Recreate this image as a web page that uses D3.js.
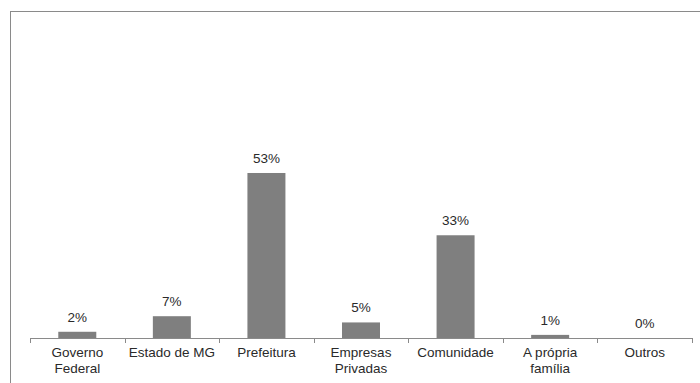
<!DOCTYPE html>
<html>
<head>
<meta charset="utf-8">
<script src="https://cdn.jsdelivr.net/npm/d3@7"></script>
<style>
  html, body { margin: 0; padding: 0; background: #fff; }
  svg { display: block; }
</style>
</head>
<body>
<svg id="chart" width="700" height="383"></svg>
<script>
const categories = [
  ["Governo", "Federal"],
  ["Estado de MG"],
  ["Prefeitura"],
  ["Empresas", "Privadas"],
  ["Comunidade"],
  ["A própria", "família"],
  ["Outros"]
];
const values = [2, 7, 53, 5, 33, 1, 0];

const svg = d3.select("#chart");
const font = "'Liberation Sans', Arial, sans-serif";
const fontSize = 13.5;

// outer frame of the chart area
svg.append("rect")
  .attr("x", 10.5).attr("y", 11.5)
  .attr("width", 700).attr("height", 400)
  .attr("fill", "none").attr("stroke", "#8a8a8a").attr("stroke-width", 1);

const xOuter = d3.scaleBand()
  .domain(d3.range(categories.length))
  .range([30, 692]);

const y = d3.scaleLinear().domain([0, 60]).range([338, 151.2]);

// bars
svg.selectAll("rect.bar")
  .data(values)
  .join("rect")
  .attr("class", "bar")
  .attr("x", (d, i) => xOuter(i) + xOuter.bandwidth() / 2 - 19)
  .attr("width", 38)
  .attr("y", d => y(d))
  .attr("height", d => y(0) - y(d))
  .attr("fill", "#7f7f7f");

// value labels
svg.selectAll("text.val")
  .data(values)
  .join("text")
  .attr("class", "val")
  .attr("x", (d, i) => xOuter(i) + xOuter.bandwidth() / 2)
  .attr("y", d => y(d) - 10)
  .attr("text-anchor", "middle")
  .attr("font-family", font)
  .attr("font-size", fontSize)
  .attr("fill", "#2a2a2a")
  .text(d => d + "%");

// category axis
const axisG = svg.append("g");
axisG.append("line")
  .attr("x1", 30).attr("x2", 692)
  .attr("y1", 338.5).attr("y2", 338.5)
  .attr("stroke", "#8a8a8a");
const tickPos = d3.range(categories.length + 1).map(i => i === categories.length ? 692 : xOuter(i));
axisG.selectAll("line.tick")
  .data(tickPos)
  .join("line")
  .attr("class", "tick")
  .attr("x1", d => Math.round(d) + 0.5).attr("x2", d => Math.round(d) + 0.5)
  .attr("y1", 338).attr("y2", 343)
  .attr("stroke", "#8a8a8a");

const catText = axisG.selectAll("text.cat")
  .data(categories)
  .join("text")
  .attr("class", "cat")
  .attr("x", (d, i) => xOuter(i) + xOuter.bandwidth() / 2)
  .attr("y", 357)
  .attr("text-anchor", "middle")
  .attr("font-family", font)
  .attr("font-size", fontSize)
  .attr("fill", "#2a2a2a");
catText.selectAll("tspan")
  .data(d => d)
  .join("tspan")
  .attr("x", function () { return d3.select(this.parentNode).attr("x"); })
  .attr("dy", (d, j) => j === 0 ? 0 : 16)
  .text(d => d);
</script>
</body>
</html>
